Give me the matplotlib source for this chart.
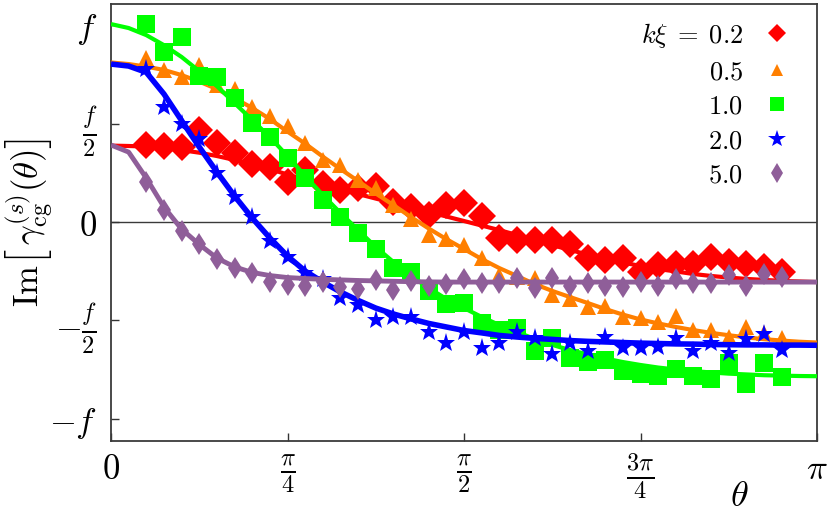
import numpy as np
import matplotlib
matplotlib.use('Agg')
import matplotlib.pyplot as plt
from matplotlib.lines import Line2D

plt.rcParams['mathtext.fontset'] = 'cm'
plt.rcParams['font.family'] = ['DejaVu Serif']

# ---------------- data ----------------
theta_pts_deg = [9.0, 13.5, 18.0, 22.5, 27.0, 31.5, 36.0, 40.5, 45.0, 49.5, 54.0, 58.5,
                 63.0, 67.5, 72.0, 76.5, 81.0, 85.5, 90.0, 94.5, 99.0, 103.5, 108.0,
                 112.5, 117.0, 121.5, 126.0, 130.5, 135.0, 139.5, 144.0, 148.5, 153.0,
                 157.5, 162.0, 166.5, 171.0]
theta_fit_deg = [0.0, 4.5, 9.0, 13.5, 18.0, 22.5, 27.0, 31.5, 36.0, 40.5, 45.0, 49.5,
                 54.0, 58.5, 63.0, 67.5, 72.0, 76.5, 81.0, 85.5, 90.0, 94.5, 99.0,
                 103.5, 108.0, 112.5, 117.0, 121.5, 126.0, 130.5, 135.0, 139.5, 144.0,
                 148.5, 153.0, 157.5, 162.0, 166.5, 171.0, 175.5, 180.0]

labels = [r'$k\xi\;=\;0.2$', r'$0.5$', r'$1.0$', r'$2.0$', r'$5.0$']

pts_02 = [0.391, 0.386, 0.382, 0.467, 0.402, 0.352, 0.294, 0.281, 0.205, 0.264, 0.193,
          0.162, 0.171, 0.183, 0.103, 0.076, 0.036, 0.086, 0.099, 0.030, -0.083, -0.091,
          -0.089, -0.091, -0.112, -0.183, -0.193, -0.185, -0.252, -0.218, -0.213, -0.213,
          -0.176, -0.201, -0.211, -0.228, -0.254]
pts_05 = [0.831, 0.772, 0.738, 0.797, 0.695, 0.675, 0.585, 0.538, 0.487, 0.399, 0.313,
          0.289, 0.213, 0.171, 0.086, 0.015, -0.066, -0.086, -0.117, -0.184, -0.269,
          -0.278, -0.282, -0.371, -0.391, -0.434, -0.426, -0.481, -0.489, -0.506, -0.475,
          -0.546, -0.548, -0.585, -0.533, -0.563, -0.590]
pts_10 = [1.004, 0.864, 0.938, 0.741, 0.738, 0.628, 0.504, 0.430, 0.326, 0.222, 0.112,
          0.027, -0.057, -0.139, -0.235, -0.256, -0.350, -0.416, -0.411, -0.513, -0.546,
          -0.536, -0.655, -0.590, -0.692, -0.709, -0.701, -0.755, -0.772, -0.782, -0.746,
          -0.782, -0.798, -0.714, -0.822, -0.714, -0.785]
pts_20 = [0.775, 0.585, 0.497, 0.420, 0.250, 0.125, 0.025, -0.094, -0.179, -0.259, -0.289,
          -0.386, -0.421, -0.499, -0.482, -0.482, -0.558, -0.612, -0.557, -0.641, -0.614,
          -0.558, -0.590, -0.670, -0.616, -0.653, -0.585, -0.641, -0.641, -0.633, -0.590,
          -0.653, -0.616, -0.667, -0.595, -0.569, -0.650]
pts_50 = [0.201, 0.061, -0.044, -0.114, -0.190, -0.234, -0.259, -0.303, -0.320, -0.326,
          -0.305, -0.328, -0.342, -0.294, -0.345, -0.299, -0.325, -0.315, -0.291, -0.312,
          -0.308, -0.286, -0.337, -0.286, -0.325, -0.312, -0.325, -0.332, -0.303, -0.325,
          -0.291, -0.312, -0.308, -0.269, -0.325, -0.264, -0.281]

fit_02 = [0.388, 0.386, 0.383, 0.376, 0.365, 0.352, 0.335, 0.315, 0.294, 0.269, 0.241,
          0.213, 0.188, 0.165, 0.142, 0.119, 0.096, 0.074, 0.051, 0.028, 0.005, -0.018,
          -0.041, -0.066, -0.091, -0.117, -0.142, -0.165, -0.185, -0.206, -0.223, -0.239,
          -0.251, -0.264, -0.274, -0.282, -0.289, -0.294, -0.299, -0.302, -0.305]
fit_05 = [0.810, 0.802, 0.789, 0.772, 0.746, 0.713, 0.675, 0.629, 0.579, 0.523, 0.459,
          0.398, 0.332, 0.269, 0.208, 0.145, 0.086, 0.025, -0.033, -0.087, -0.137, -0.188,
          -0.234, -0.274, -0.315, -0.350, -0.381, -0.411, -0.442, -0.470, -0.495, -0.515,
          -0.533, -0.549, -0.563, -0.575, -0.586, -0.595, -0.602, -0.608, -0.612]
fit_10 = [1.005, 0.985, 0.949, 0.898, 0.838, 0.766, 0.690, 0.604, 0.518, 0.431, 0.335,
          0.234, 0.137, 0.046, -0.041, -0.127, -0.203, -0.274, -0.335, -0.391, -0.437,
          -0.482, -0.523, -0.558, -0.594, -0.624, -0.650, -0.672, -0.693, -0.711, -0.726,
          -0.739, -0.749, -0.757, -0.764, -0.770, -0.774, -0.778, -0.780, -0.782, -0.783]
fit_20 = [0.802, 0.792, 0.760, 0.650, 0.515, 0.381, 0.254, 0.132, 0.020, -0.081, -0.173,
          -0.249, -0.305, -0.355, -0.398, -0.437, -0.467, -0.492, -0.515, -0.533, -0.551,
          -0.563, -0.576, -0.584, -0.591, -0.596, -0.602, -0.606, -0.609, -0.612, -0.615,
          -0.617, -0.619, -0.620, -0.622, -0.623, -0.624, -0.624, -0.625, -0.625, -0.626]
fit_50 = [0.391, 0.355, 0.223, 0.076, -0.036, -0.114, -0.183, -0.228, -0.256, -0.272,
          -0.282, -0.287, -0.291, -0.294, -0.297, -0.299, -0.301, -0.303, -0.304, -0.305,
          -0.305, -0.305, -0.305, -0.305, -0.305, -0.305, -0.305, -0.305, -0.305, -0.305,
          -0.305, -0.305, -0.305, -0.305, -0.305, -0.305, -0.305, -0.305, -0.305, -0.305,
          -0.305]

xtick_labels = [r'$0$', r'$\frac{\pi}{4}$', r'$\frac{\pi}{2}$', r'$\frac{3\pi}{4}$', r'$\pi$']
ytick_labels = [r'$-f$', r'$-\frac{f}{2}$', r'$0$', r'$\frac{f}{2}$', r'$f$']

# ---------------- plot ----------------
th_p = np.deg2rad(theta_pts_deg)
th_f = np.deg2rad(theta_fit_deg)

fig = plt.figure(figsize=(8.3, 5.17), dpi=100)
ax = fig.add_axes([111/830, 76/517, 706/830, 437/517])

ax.axhline(0, color='#3a3a3a', lw=1.0, zorder=1)

series = [
    (pts_02, fit_02, '#ff0000', 'D', 14, 3.0, 0.62),
    (pts_05, fit_05, '#ff7f00', '^', 11, 3.0, 0.85),
    (pts_10, fit_10, '#00ff00', 's', 12.5, 3.0, 0.8),
    (pts_20, fit_20, '#0000ff', '*', 14, 4.0, 0.95),
    (pts_50, fit_50, '#8f5e99', 'd', 11.5, 3.5, 0.85),
]
handles = []
z = 2
for pts, fit, col, mk, ms, lw, lscale in series:
    ax.plot(th_p, pts, linestyle='none', marker=mk, ms=ms, color=col,
            markeredgewidth=0, zorder=z)
    ax.plot(th_f, fit, color=col, lw=lw, zorder=z + 0.5, solid_capstyle='butt')
    handles.append(Line2D([], [], linestyle='none', marker=mk, color=col,
                          ms=ms * lscale, markeredgewidth=0))
    z += 1

ax.set_xlim(0, np.pi)
ax.set_ylim(-1.112, 1.107)
ax.set_xticks([0, np.pi/4, np.pi/2, 3*np.pi/4, np.pi])
ax.set_xticklabels(xtick_labels)
ax.set_yticks([-1, -0.5, 0, 0.5, 1])
ax.set_yticklabels(ytick_labels)
ax.tick_params(axis='both', direction='in', length=6, width=1.0, colors='#333333',
               labelcolor='black', top=False, right=False)
ax.tick_params(axis='x', labelsize=25, pad=8)
ax.tick_params(axis='y', labelsize=25, pad=10)
for sp in ax.spines.values():
    sp.set_color('#3a3a3a')
    sp.set_linewidth(1.3)

ax.set_ylabel(r'$\mathrm{Im}\left[\,\gamma^{(s)}_{\mathrm{cg}}(\theta)\right]$', fontsize=25)
ax.yaxis.set_label_coords(-0.08, 0.5)
ax.set_xlabel(r'$\theta$', fontsize=26)
ax.xaxis.set_label_coords(0.89, -0.088)

leg = ax.legend(handles, labels, loc='upper right', bbox_to_anchor=(0.985, 0.998),
                frameon=False, markerfirst=False, fontsize=19, handlelength=1.0,
                handletextpad=0.8, labelspacing=0.36, borderaxespad=0.2)
for t in leg.get_texts():
    t.set_ha('right')

fig.savefig('out.png', dpi=100)
